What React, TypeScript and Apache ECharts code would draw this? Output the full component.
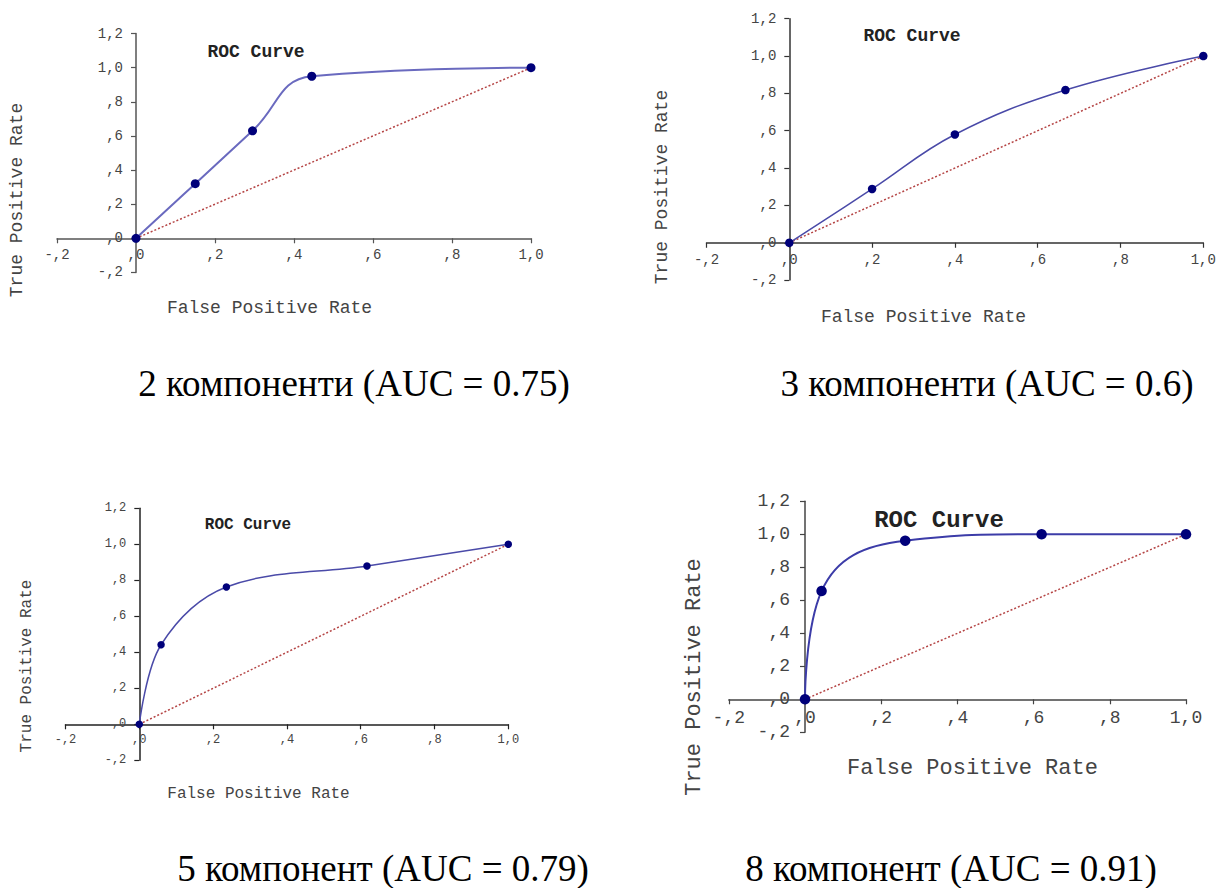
import React, { useEffect, useRef } from "react";
import * as echarts from "echarts";

// ---- data ----
const xTicksMin = -0.2;
const xTicksMax = 1.0;
const yTicksMin = -0.2;
const yTicksMax = 1.2;
const tickStep = 0.2;

const roc2X = [0, 0.15, 0.295, 0.445, 1.0];
const roc2Y = [0, 0.32, 0.63, 0.95, 1.0];
const roc3X = [0, 0.2, 0.4, 0.667, 1.0];
const roc3Y = [0, 0.288, 0.58, 0.818, 1.0];
const roc5X = [0, 0.059, 0.236, 0.617, 1.0];
const roc5Y = [0, 0.442, 0.763, 0.879, 1.0];
const roc8X = [0, 0.0435, 0.263, 0.621, 1.0];
const roc8Y = [0, 0.656, 0.961, 1.0, 1.0];
const diagX = [0, 1];
const diagY = [0, 1];

const captions = [
  "2 компоненти (AUC = 0.75)",
  "3 компоненти (AUC = 0.6)",
  "5 компонент (AUC = 0.79)",
  "8 компонент (AUC = 0.91)",
];
const chartTitle = "ROC Curve";
const xTitle = "False Positive Rate";
const yTitle = "True Positive Rate";

// ---- layout / style (not data) ----
const panels = [
  {
    xs: roc2X, ys: roc2Y,
    grid: { left: 57, top: 33.6, width: 474, height: 238.8 },
    tickFont: 14, titleFont: 18, axisFont: 18, symbol: 9, lineColor: "#6a6abf", lineWidth: 2,
    title: [256, 51.7], xt: [269.5, 308], yt: [16.5, 200], cap: [354, 383], axisColor: "#555",
    yMargin: 13, smooth: 0.45,
  },
  {
    xs: roc3X, ys: roc3Y,
    grid: { left: 706.5, top: 18.7, width: 496.8, height: 261.4 },
    tickFont: 14, titleFont: 18, axisFont: 18, symbol: 8.5, lineColor: "#4a4aa8", lineWidth: 1.5,
    title: [912, 36], xt: [923.5, 317], yt: [662, 187], cap: [987, 383], axisColor: "#333",
    yMargin: 13, smooth: 0.4,
  },
  {
    xs: roc5X, ys: roc5Y,
    grid: { left: 65.5, top: 508.3, width: 442.8, height: 252 },
    tickFont: 12, titleFont: 16, axisFont: 16, symbol: 7.5, lineColor: "#4a4aa8", lineWidth: 1.5,
    title: [248, 525], xt: [258.5, 794], yt: [27, 666], cap: [383, 868], axisColor: "#222",
    yMargin: 13, smooth: 0.35,
  },
  {
    xs: roc8X, ys: roc8Y,
    grid: { left: 728.8, top: 501.3, width: 457.2, height: 231 },
    tickFont: 18, titleFont: 24, axisFont: 22, symbol: 10.5, lineColor: "#3c3ca8", lineWidth: 2,
    title: [939, 520], xt: [972.5, 768], yt: [694, 677], cap: [951, 868], axisColor: "#444",
    yMargin: 15, smooth: 0.45,
  },
];

const fmt = (v: number) => {
  const s = v.toFixed(1).replace(".", ",");
  return s.replace(/^-0,/, "-,").replace(/^0,/, ",");
};

export default function App() {
  const ref = useRef<HTMLDivElement>(null);
  useEffect(() => {
    if (!ref.current) return;
    const chart = echarts.init(ref.current, undefined, { renderer: "svg" });
    const grids: any[] = [];
    const xAxes: any[] = [];
    const yAxes: any[] = [];
    const series: any[] = [];
    const graphic: any[] = [];
    panels.forEach((p, i) => {
      grids.push({ ...p.grid, containLabel: false });
      const common = {
        type: "value",
        gridIndex: i,
        interval: tickStep,
        splitLine: { show: false },
        axisLine: { show: true, onZero: false, lineStyle: { color: p.axisColor, width: 1.5 } },
        axisTick: { show: true, length: 5, lineStyle: { color: p.axisColor, width: 1.2 } },
      };
      const label = {
        formatter: fmt,
        fontFamily: "Liberation Mono",
        fontSize: p.tickFont,
        color: "#444",
      };
      const xOff = -(p.grid.height * (0 - yTicksMin)) / (yTicksMax - yTicksMin);
      const yOff = -(p.grid.width * (0 - xTicksMin)) / (xTicksMax - xTicksMin);
      xAxes.push({
        ...common, position: "bottom", offset: xOff, min: xTicksMin, max: xTicksMax,
        axisLabel: { ...label, margin: 10 },
      });
      yAxes.push({
        ...common, position: "left", offset: yOff, min: yTicksMin, max: yTicksMax,
        axisLabel: { ...label, margin: p.yMargin },
      });
      series.push({
        type: "line",
        xAxisIndex: i,
        yAxisIndex: i,
        data: diagX.map((x, k) => [x, diagY[k]]),
        showSymbol: false,
        lineStyle: { color: "#b54545", width: 1.5, type: [2, 2] },
        z: 2,
      });
      series.push({
        type: "line",
        xAxisIndex: i,
        yAxisIndex: i,
        data: p.xs.map((x, k) => [x, p.ys[k]]),
        smooth: p.smooth,
        symbol: "circle",
        symbolSize: p.symbol,
        itemStyle: { color: "#00007a" },
        lineStyle: { color: p.lineColor, width: p.lineWidth },
        z: 3,
      });
      graphic.push({
        type: "text",
        x: p.title[0],
        y: p.title[1],
        style: {
          text: chartTitle,
          fontFamily: "Liberation Mono",
          fontWeight: "bold",
          fontSize: p.titleFont,
          fill: "#222",
          align: "center",
          verticalAlign: "middle",
        },
      });
      graphic.push({
        type: "text",
        x: p.xt[0],
        y: p.xt[1],
        style: {
          text: xTitle,
          fontFamily: "Liberation Mono",
          fontSize: p.axisFont,
          fill: "#444",
          align: "center",
          verticalAlign: "middle",
        },
      });
      graphic.push({
        type: "text",
        x: p.yt[0],
        y: p.yt[1],
        rotation: Math.PI / 2,
        style: {
          text: yTitle,
          fontFamily: "Liberation Mono",
          fontSize: p.axisFont,
          fill: "#444",
          align: "center",
          verticalAlign: "middle",
        },
      });
      graphic.push({
        type: "text",
        x: p.cap[0],
        y: p.cap[1],
        style: {
          text: captions[i],
          fontFamily: "Liberation Serif",
          fontSize: 37,
          fill: "#000",
          align: "center",
          verticalAlign: "middle",
        },
      });
    });
    chart.setOption({
      animation: false,
      backgroundColor: "#fff",
      grid: grids,
      xAxis: xAxes,
      yAxis: yAxes,
      series,
      graphic,
    });
    return () => chart.dispose();
  }, []);
  return (
    <div
      ref={ref}
      style={{ position: "fixed", left: 0, top: 0, width: 1229, height: 888 }}
    />
  );
}
